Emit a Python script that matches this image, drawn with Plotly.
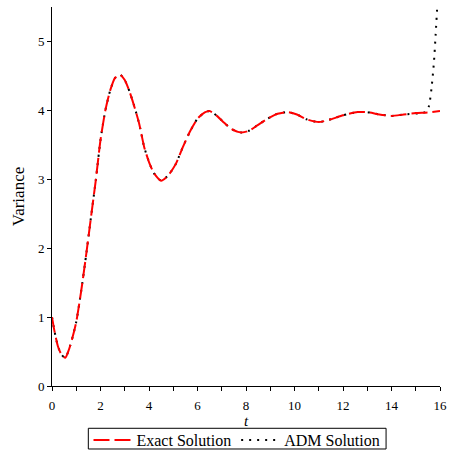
import plotly.graph_objects as go

# Exact solution
t_exact = [0, 0.1, 0.25, 0.4, 0.55, 0.7, 0.85, 1.0, 1.2, 1.4, 1.6, 1.8, 2.0, 2.2, 2.4,
           2.6, 2.8, 3.0, 3.2, 3.4, 3.6, 3.8, 4.0, 4.2, 4.5, 4.8, 5.1, 5.4, 5.7, 6.0,
           6.3, 6.5, 6.8, 7.1, 7.4, 7.8, 8.1, 8.5, 8.9, 9.3, 9.7, 10.1, 10.5, 11.0,
           11.5, 12.0, 12.6, 13.0, 13.5, 14.0, 14.5, 15.0, 15.5, 16.0]
v_exact = [1.00, 0.80, 0.57, 0.45, 0.41, 0.53, 0.71, 0.93, 1.37, 1.88, 2.43, 2.97, 3.57,
           4.00, 4.29, 4.47, 4.52, 4.44, 4.27, 4.05, 3.80, 3.47, 3.25, 3.09, 2.98, 3.06,
           3.22, 3.47, 3.70, 3.88, 3.97, 3.99, 3.92, 3.82, 3.73, 3.68, 3.70, 3.79, 3.88,
           3.95, 3.975, 3.94, 3.87, 3.83, 3.87, 3.93, 3.975, 3.975, 3.94, 3.92, 3.94,
           3.96, 3.97, 3.99]

# ADM solution: follows exact, then diverges near the end
adm_tail_t = [15.3, 15.45, 15.55, 15.65, 15.75, 15.82, 15.9, 16.0]
adm_tail_v = [3.965, 3.985, 4.07, 4.32, 4.70, 5.10, 5.60, 6.40]
t_adm = t_exact[:-3] + adm_tail_t
v_adm = v_exact[:-3] + adm_tail_v

x_ticks = [0, 2, 4, 6, 8, 10, 12, 14, 16]
y_ticks = [0, 1, 2, 3, 4, 5]

FONT = "Liberation Serif, Times New Roman, serif"

fig = go.Figure()
fig.add_trace(go.Scatter(
    x=t_adm, y=v_adm, mode="lines", name="ADM Solution",
    line=dict(color="black", width=2, dash="2px,6px", shape="spline", smoothing=0.6),
    legendrank=2,
))
fig.add_trace(go.Scatter(
    x=t_exact, y=v_exact, mode="lines", name="Exact Solution",
    line=dict(color="#ff0000", width=2, dash="16px,5px", shape="spline", smoothing=0.6),
    legendrank=1,
))

# legend frame (Maple-style box)
fig.add_shape(type="rect", xref="paper", yref="paper",
              x0=0.0936, x1=0.861, y0=-0.1662, y1=-0.1116,
              line=dict(color="black", width=1), fillcolor="rgba(0,0,0,0)", layer="above")

fig.update_layout(
    width=450, height=450,
    margin=dict(l=52, r=10, t=7, b=64, autoexpand=False),
    paper_bgcolor="white", plot_bgcolor="white",
    font=dict(family=FONT, size=13, color="black"),
    showlegend=True,
    legend=dict(
        orientation="h", x=0.4768, xanchor="center", y=-0.098, yanchor="top",
        borderwidth=0, bgcolor="rgba(0,0,0,0)",
        font=dict(family=FONT, size=16, color="black"),
        itemwidth=38, tracegroupgap=0,
    ),
    xaxis=dict(
        range=[0, 16], tickvals=x_ticks, ticks="outside", ticklen=4, tickwidth=1,
        tickcolor="black", showline=True, linecolor="black", linewidth=1,
        showgrid=False, zeroline=False, automargin=False,
        ticklabeloverflow="allow", ticklabelstandoff=3,
        minor=dict(dtick=1, ticks="outside", ticklen=4, tickcolor="black", showgrid=False),
        title=dict(text="<i>t</i>", font=dict(family=FONT, size=15), standoff=1),
        tickfont=dict(family=FONT, size=13),
    ),
    yaxis=dict(
        range=[0, 5.5], tickvals=y_ticks, ticks="outside", ticklen=4, tickwidth=1,
        tickcolor="black", showline=True, linecolor="black", linewidth=1,
        showgrid=False, zeroline=False, automargin=False,
        title=dict(text="Variance", font=dict(family=FONT, size=17), standoff=8),
        tickfont=dict(family=FONT, size=13),
    ),
)

fig.write_html(
    "out.html",
    config={"displayModeBar": False},
    post_script="document.body.style.margin='0';document.body.style.overflow='hidden';",
)
